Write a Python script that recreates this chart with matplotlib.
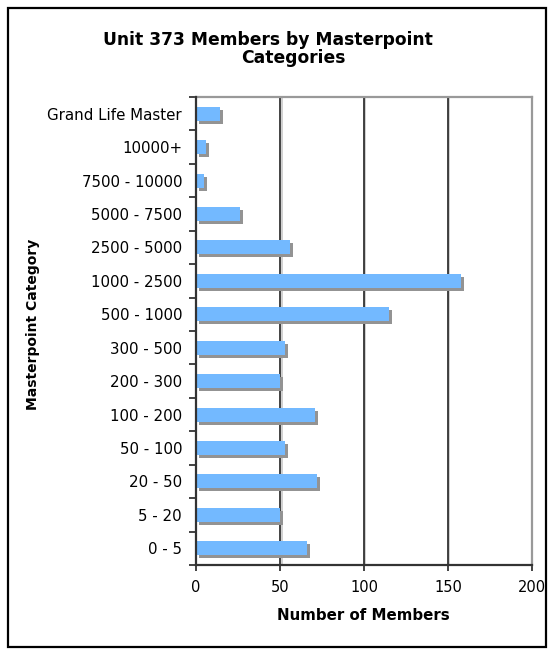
import matplotlib
matplotlib.use("Agg")
import matplotlib.pyplot as plt
import matplotlib.transforms as mtransforms
from matplotlib.patches import Rectangle
import numpy as np

categories = ["0 - 5", "5 - 20", "20 - 50", "50 - 100", "100 - 200", "200 - 300",
              "300 - 500", "500 - 1000", "1000 - 2500", "2500 - 5000", "5000 - 7500",
              "7500 - 10000", "10000+", "Grand Life Master"]
members = [66, 50, 72, 53, 71, 50, 53, 115, 158, 56, 26, 5, 6, 14]
x_ticks = [0, 50, 100, 150, 200]

title_line1 = "Unit 373 Members by Masterpoint"
title_line2 = "Categories"
x_label = "Number of Members"
y_label = "Masterpoint Category"

plt.rcParams['font.family'] = ['DejaVu Sans']

W, H = 554, 655
fig = plt.figure(figsize=(W / 100, H / 100), dpi=100)
fig.patch.set_facecolor("white")

# outer frame
fig.patches.append(Rectangle((8 / W, 8 / H), (546 - 8) / W, (647 - 8) / H,
                             transform=fig.transFigure, fill=False,
                             edgecolor="black", linewidth=1.6))

left, right, top, bottom = 196, 532, 97, 565
ax = fig.add_axes([left / W, 1 - bottom / H, (right - left) / W, (bottom - top) / H])

y = np.arange(len(categories))
bar_h = 0.42

shadow = ax.transData + mtransforms.ScaledTranslation(3 / 100, -3 / 100, fig.dpi_scale_trans)
grid_shadow = ax.get_xaxis_transform() + mtransforms.ScaledTranslation(1.5 / 100, 0, fig.dpi_scale_trans)

for g in x_ticks[1:-1]:
    ax.plot([g, g], [0, 1], color="#c8c8c8", linewidth=1.2, transform=grid_shadow, zorder=1)
    ax.plot([g, g], [0, 1], color="#222222", linewidth=1.2, transform=ax.get_xaxis_transform(), zorder=1.5)

ax.barh(y, members, height=bar_h, color="#939393", transform=shadow, zorder=2)
ax.barh(y, members, height=bar_h, color="#73B9FF", zorder=3)

ax.set_xlim(0, 200)
ax.set_ylim(-0.5, len(categories) - 0.5)

ax.set_xticks(x_ticks)
ax.set_xticklabels([str(t) for t in x_ticks], fontsize=10.5)
ax.tick_params(axis="x", direction="out", length=4, width=1.2, color="#222222", pad=7)

ax.set_yticks(y)
ax.set_yticklabels(categories, fontsize=10.8)
ax.tick_params(axis="y", which="major", length=0, pad=10)
ax.set_yticks(np.arange(-0.5, len(categories), 1.0), minor=True)
ax.tick_params(axis="y", which="minor", direction="out", length=5, width=1.2, color="#222222")

for side in ["top", "right"]:
    ax.spines[side].set_color("#999999")
    ax.spines[side].set_linewidth(1.6)
for side in ["left", "bottom"]:
    ax.spines[side].set_color("#333333")
    ax.spines[side].set_linewidth(1.6)
ax.spines["left"].set_zorder(4)

fig.text(363 / W, 1 - 615 / H, x_label, fontsize=10.8, fontweight="bold", ha="center", va="center")
fig.text(33 / W, 1 - 324 / H, y_label, rotation=90, fontsize=10, fontweight="bold",
         ha="center", va="center")

fig.text(268 / W, 1 - 40 / H, title_line1, fontsize=12.3, fontweight="bold", ha="center", va="center")
fig.text(293 / W, 1 - 58 / H, title_line2, fontsize=12.3, fontweight="bold", ha="center", va="center")

fig.savefig("out.png", dpi=100)
